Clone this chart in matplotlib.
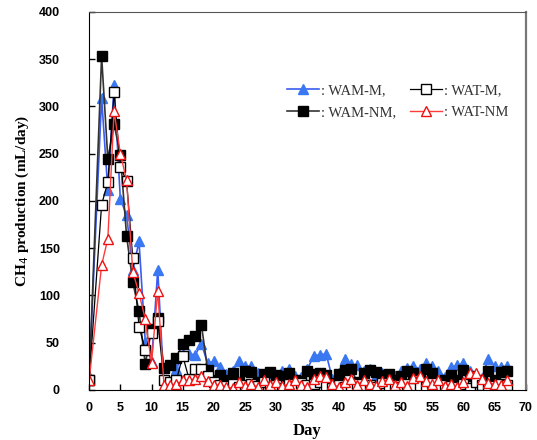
import matplotlib
matplotlib.use('Agg')
import matplotlib.pyplot as plt

# sampling days (no sample on day 1)
days = [0] + list(range(2, 68))

wam_m = [15, 309, 211, 323, 202, 185, 127, 157, 51, 29, 127, 4, 5, 22, 38, 38, 37, 49,
         28, 30, 24, 17, 20, 31, 25, 25, 18, 15, 18, 16, 20, 22, 15, 14, 22, 36, 37, 38,
         12, 18, 33, 27, 26, 20, 22, 15, 18, 17, 15, 20, 23, 25, 22, 28, 25, 20, 14, 24,
         26, 28, 20, 10, 13, 33, 25, 24, 25]
wam_nm = [10, 353, 244, 281, 249, 163, 114, 83, 27, 64, 76, 23, 26, 34, 49, 53, 57, 69,
          21, 10, 16, 10, 18, 8, 20, 19, 8, 17, 19, 16, 15, 18, 10, 9, 20, 17, 18, 16,
          7, 17, 21, 22, 8, 18, 21, 19, 16, 17, 10, 15, 20, 18, 10, 22, 18, 8, 10, 16,
          10, 21, 15, 9, 10, 20, 10, 19, 20]
wat_m = [10, 196, 220, 315, 236, 221, 139, 67, 42, 60, 73, 10, 8, 10, 36, 12, 22, 22,
         15, 8, 5, 4, 6, 3, 5, 6, 4, 8, 3, 5, 2, 6, 4, 7, 5, 6, 8, 4,
         2, 5, 3, 4, 6, 2, 5, 3, 7, 4, 5, 3, 6, 2, 4, 3, 7, 2, 5, 4,
         3, 6, 2, 8, 5, 3, 4, 6, 5]
wat_nm = [10, 132, 160, 295, 250, 222, 125, 102, 75, 28, 105, 5, 5, 6, 10, 10, 12, 15,
          9, 5, 5, 3, 2, 8, 4, 6, 3, 10, 5, 8, 4, 6, 10, 5, 3, 12, 15, 14,
          6, 3, 8, 12, 5, 10, 6, 4, 9, 11, 5, 8, 4, 13, 15, 9, 6, 10, 4, 6,
          3, 8, 18, 18, 12, 7, 6, 5, 10]

fig = plt.figure(figsize=(5.37, 4.40), dpi=100)
ax = fig.add_axes([0.166, 0.114, 0.813, 0.859])

ax.plot(days, wam_m, '-^', color='#3a5cf0', mfc='#3a78f2', mec='#3a78f2', ms=7.5, lw=1.2,
        label=': WAM-M,')
ax.plot(days, wam_nm, '-s', color='#333333', mfc='black', mec='black', ms=7.5, lw=1.2,
        label=': WAM-NM,')
ax.plot(days, wat_m, '-s', color='black', mfc='white', mec='black', ms=7.5, lw=0.9,
        label=': WAT-M,')
ax.plot(days, wat_nm, '-^', color='#ff3b3b', mfc='white', mec='#ee1111', ms=7.5, lw=1.0,
        label=': WAT-NM')

ax.set_xlim(0, 70)
ax.set_ylim(0, 400)
ax.set_xticks(range(0, 71, 5))
ax.set_yticks(range(0, 401, 50))
ax.tick_params(direction='in', length=4, width=1, labelsize=9)
ax.tick_params(axis='x', pad=9)
ax.tick_params(axis='y', pad=21)
for t in ax.get_xticklabels() + ax.get_yticklabels():
    t.set_fontfamily('Liberation Sans')
    t.set_fontweight('bold')

ax.spines['left'].set_color('black')
ax.spines['bottom'].set_color('black')
ax.spines['top'].set_color('#555555')
ax.spines['right'].set_color('#777777')
ax.spines['right'].set_linewidth(1.6)

ax.set_xlabel('Day', fontfamily='Liberation Serif', fontweight='bold', fontsize=12, labelpad=6)
ax.set_ylabel('CH$_4$ production (mL/day)', fontfamily='Liberation Serif',
              fontweight='bold', fontsize=11, labelpad=6)

leg = ax.legend(ncol=2, frameon=False, loc='upper right', bbox_to_anchor=(0.99, 0.845),
                prop={'family': 'Liberation Serif', 'size': 10.5},
                handlelength=2.2, handletextpad=0.1, columnspacing=1.0, labelspacing=0.6)
for t in leg.get_texts():
    t.set_color('#333333')

fig.savefig('out.png', dpi=100)
